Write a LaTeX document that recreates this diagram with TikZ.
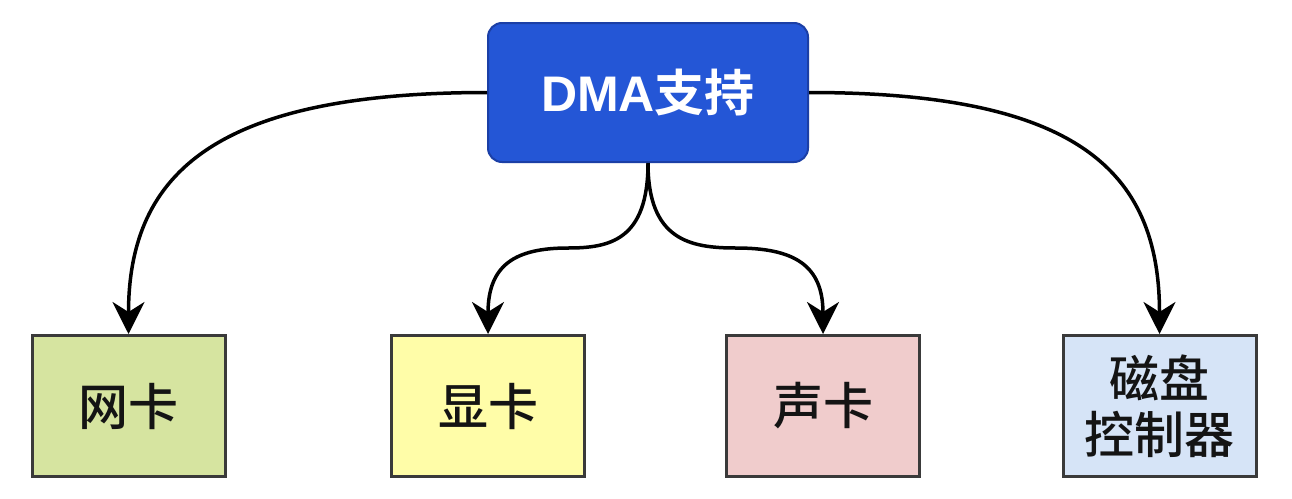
\documentclass[tikz,border=0pt]{standalone}
\usepackage{fontspec}
\newfontfamily\cjk{Noto Sans CJK SC}[UprightFont={* Medium}, BoldFont={* Bold}]
\newfontfamily\lsans{Liberation Sans}
\usetikzlibrary{arrows.meta}
\definecolor{topfill}{HTML}{2456D6}
\definecolor{topdraw}{HTML}{1B3FA6}
\definecolor{boxdraw}{HTML}{3A3A3A}
\definecolor{gfill}{HTML}{D6E4A0}
\definecolor{yfill}{HTML}{FFFDA8}
\definecolor{pfill}{HTML}{F0CCCC}
\definecolor{bfill}{HTML}{D6E4F7}
\tikzset{
  topbox/.style={draw=topdraw, fill=topfill, line width=2pt, rounded corners=14pt,
    minimum width=320pt, minimum height=139pt, inner sep=0pt, text=white,
    font=\fontsize{50}{58}\selectfont},
  devbox/.style={draw=boxdraw, line width=3pt, minimum width=193pt, minimum height=141pt,
    inner sep=0pt, align=center, text=black!92, font=\cjk\fontsize{50}{58}\selectfont},
  conn/.style={line width=3.5pt, -{Stealth[length=32pt, width=32pt, inset=10pt]}},
}
\begin{document}
\begin{tikzpicture}[x=1pt, y=-1pt]
\useasboundingbox (0,0) rectangle (1292,498);
\fill[white] (0,0) rectangle (1292,498);
\node[topbox] (top) at (648,92.5) {{\lsans\bfseries DMA}{\cjk\bfseries 支持}};
\node[devbox, fill=gfill] (n1) at (128.5,406) {网卡};
\node[devbox, fill=yfill] (n2) at (488,406) {显卡};
\node[devbox, fill=pfill] (n3) at (823,406) {声卡};
\node[devbox, fill=bfill] (n4) at (1159.5,406) {磁盘\\[-2pt]控制器};
\coordinate (m1) at (568,248);
\coordinate (m2) at (736,248);
\draw[conn] (top.west) .. controls +(-267,0) and +(0,-164) .. (n1.north);
\draw[conn] (top.east) .. controls +(267,0) and +(0,-164) .. (n4.north);
\draw[conn] (top.south) .. controls +(0,77) and +(42,0) .. (m1)
  .. controls +(-53,0) and +(0,-69) .. (n2.north);
\draw[conn] (top.south) .. controls +(0,77) and +(-46,0) .. (m2)
  .. controls +(58,0) and +(0,-69) .. (n3.north);
\end{tikzpicture}
\end{document}
